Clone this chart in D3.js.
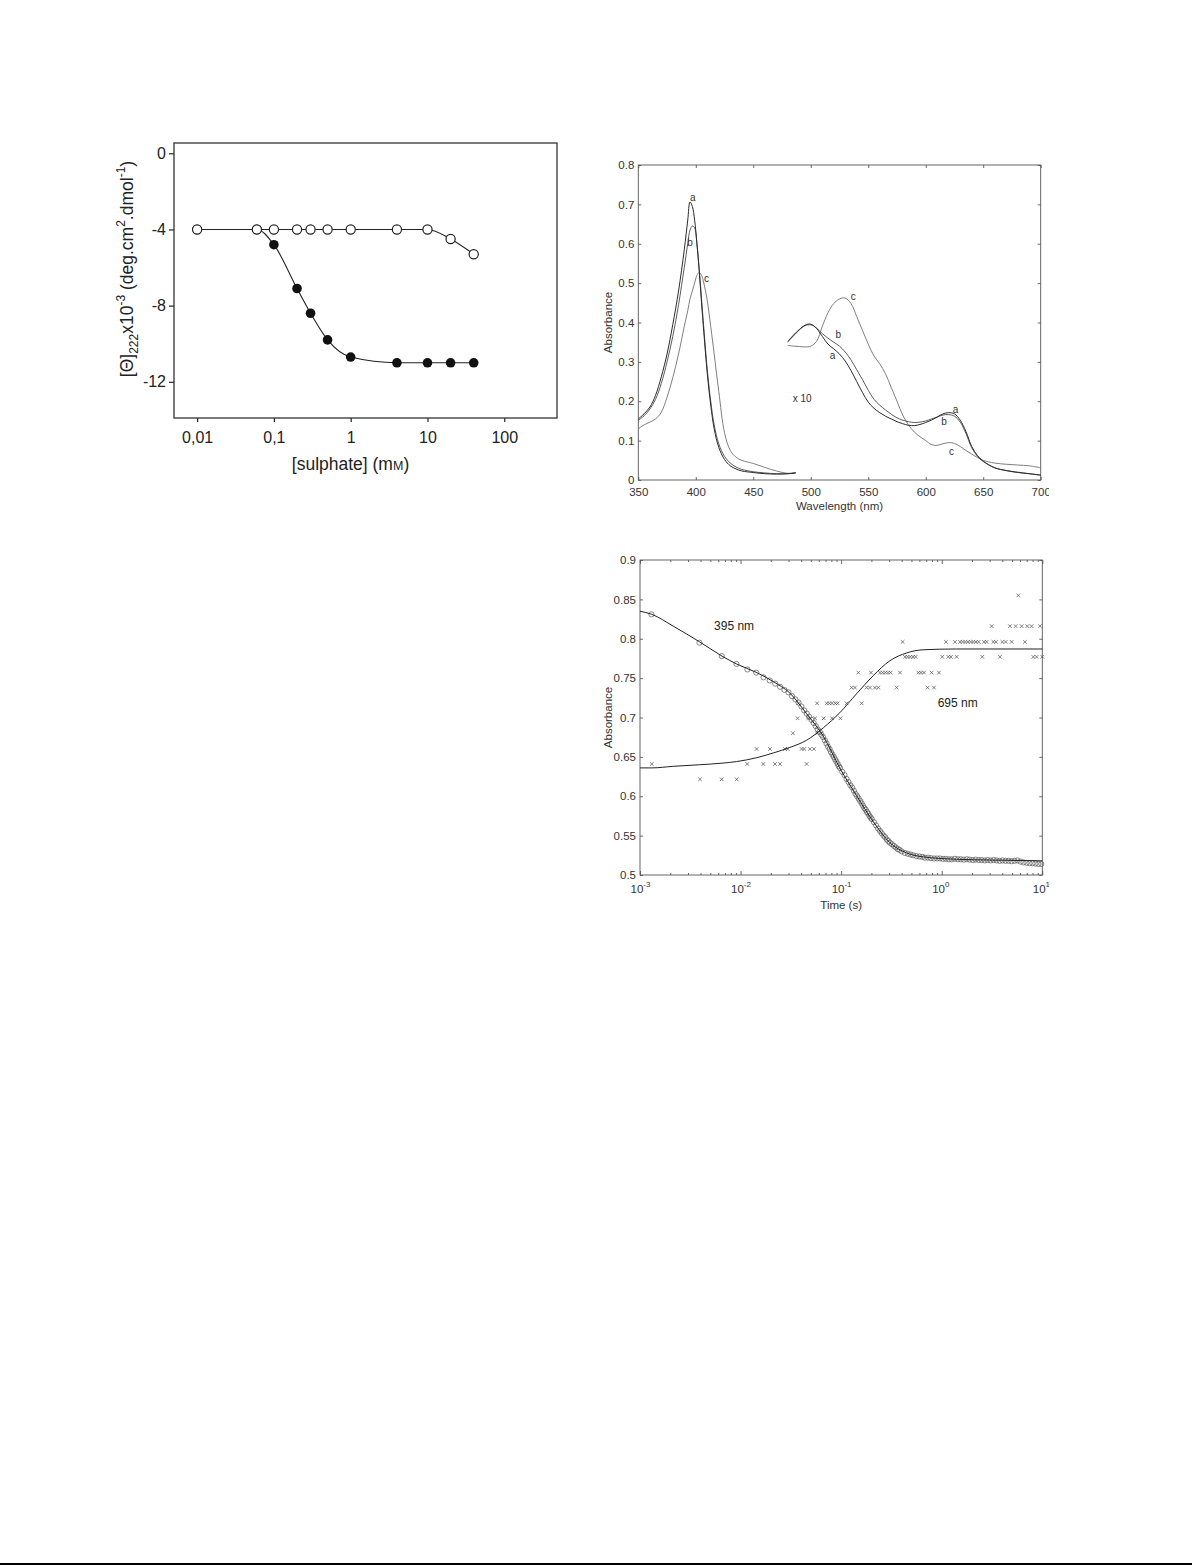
<!DOCTYPE html>
<html>
<head>
<meta charset="utf-8">
<script src="https://cdn.jsdelivr.net/npm/d3@7"></script>
<style>
  body { margin: 0; background: #fff; }
  svg { display: block; }
</style>
</head>
<body>
<div id="chart"></div>
<script>
/* ---------- data: panel 1 (CD vs sulphate) ---------- */
var sulphate = [0.01, 0.06, 0.1, 0.2, 0.3, 0.5, 1, 4, 10, 20, 40];
var thetaFilled = [-4, -4, -4.8, -7.1, -8.4, -9.8, -10.7, -11, -11, -11, -11];
var thetaOpen = [-4, -4, -4, -4, -4, -4, -4, -4, -4, -4.5, -5.3];
var sulphateTicks = [0.01, 0.1, 1, 10, 100];
var sulphateTickLabels = ["0,01", "0,1", "1", "10", "100"];
var thetaTicks = [0, -4, -8, -12];
var thetaTickLabels = ["0", "-4", "-8", "-12"];

/* ---------- data: panel 2 (spectra) ---------- */
var wlSoret = [350, 355, 360, 365, 370, 375, 380, 385, 390, 393, 395, 397, 399, 401, 403, 405, 407, 410, 413, 416, 420, 425, 430, 435, 440, 450, 460, 470, 480, 487];
var soretA = [0.155, 0.168, 0.185, 0.215, 0.262, 0.32, 0.395, 0.48, 0.585, 0.66, 0.706, 0.695, 0.66, 0.6, 0.53, 0.45, 0.375, 0.27, 0.19, 0.13, 0.083, 0.052, 0.036, 0.028, 0.023, 0.019, 0.016, 0.015, 0.016, 0.018];
var soretB = [0.152, 0.163, 0.18, 0.205, 0.245, 0.3, 0.365, 0.445, 0.54, 0.6, 0.635, 0.645, 0.64, 0.6, 0.535, 0.46, 0.385, 0.28, 0.2, 0.14, 0.092, 0.06, 0.043, 0.033, 0.027, 0.021, 0.018, 0.016, 0.016, 0.018];
var soretC = [0.13, 0.14, 0.147, 0.155, 0.172, 0.21, 0.26, 0.32, 0.39, 0.43, 0.46, 0.48, 0.5, 0.52, 0.527, 0.52, 0.5, 0.455, 0.39, 0.32, 0.225, 0.12, 0.075, 0.058, 0.05, 0.042, 0.032, 0.023, 0.017, 0.019];

var wlVis = [480, 485, 490, 495, 500, 505, 510, 515, 520, 525, 530, 535, 540, 545, 550, 555, 560, 565, 570, 575, 580, 585, 590, 595, 600, 605, 610, 615, 620, 625, 630, 635, 640, 645, 650, 660, 670, 680, 690, 700];
var visA = [0.352, 0.368, 0.382, 0.393, 0.396, 0.385, 0.365, 0.345, 0.333, 0.32, 0.302, 0.278, 0.25, 0.222, 0.198, 0.182, 0.171, 0.162, 0.155, 0.148, 0.143, 0.139, 0.138, 0.141, 0.146, 0.152, 0.16, 0.168, 0.171, 0.168, 0.152, 0.123, 0.085, 0.062, 0.048, 0.031, 0.024, 0.019, 0.016, 0.012];
var visB = [0.35, 0.366, 0.381, 0.392, 0.394, 0.386, 0.372, 0.36, 0.35, 0.34, 0.325, 0.305, 0.28, 0.255, 0.228, 0.205, 0.19, 0.178, 0.167, 0.158, 0.152, 0.148, 0.146, 0.147, 0.15, 0.155, 0.16, 0.165, 0.166, 0.162, 0.147, 0.118, 0.082, 0.06, 0.047, 0.031, 0.024, 0.02, 0.016, 0.013];
var visC = [0.342, 0.34, 0.339, 0.338, 0.34, 0.352, 0.39, 0.425, 0.448, 0.46, 0.462, 0.448, 0.415, 0.38, 0.345, 0.315, 0.295, 0.27, 0.235, 0.2, 0.165, 0.14, 0.122, 0.11, 0.1, 0.09, 0.088, 0.092, 0.095, 0.093, 0.085, 0.075, 0.066, 0.057, 0.05, 0.043, 0.04, 0.038, 0.036, 0.031];

var wlTicks = [350, 400, 450, 500, 550, 600, 650, 700];
var absTicks2 = [0, 0.1, 0.2, 0.3, 0.4, 0.5, 0.6, 0.7, 0.8];
var absTickLabels2 = ["0", "0.1", "0.2", "0.3", "0.4", "0.5", "0.6", "0.7", "0.8"];
var specLabels = [
  { t: "a", wl: 397.3, A: 0.718 }, { t: "b", wl: 395, A: 0.604 }, { t: "c", wl: 409.4, A: 0.512 },
  { t: "c", wl: 537, A: 0.467 }, { t: "b", wl: 524, A: 0.37 }, { t: "a", wl: 519, A: 0.317 },
  { t: "a", wl: 626, A: 0.18 }, { t: "b", wl: 616, A: 0.148 }, { t: "c", wl: 622.5, A: 0.072 },
  { t: "x 10", wl: 492.6, A: 0.207 }
];

/* ---------- data: panel 3 (kinetics) ---------- */
var t395 = [0.0013, 0.0039, 0.0065, 0.0091, 0.0117, 0.0143, 0.0169, 0.0195, 0.0221, 0.0247, 0.0273, 0.0299, 0.0325, 0.0351, 0.0377, 0.0403, 0.0429, 0.0455, 0.0481, 0.0507, 0.0533, 0.0559, 0.0585, 0.0611, 0.0637, 0.0663, 0.0689, 0.0715, 0.0741, 0.0767, 0.0793, 0.0819, 0.0845, 0.0871, 0.0897, 0.0923, 0.0949, 0.0975,
  0.1027, 0.1079, 0.1131, 0.1183, 0.1235, 0.1287, 0.1339, 0.1391, 0.1443, 0.1495, 0.1547, 0.1599, 0.1651, 0.1703, 0.1755, 0.1807, 0.1859, 0.1911, 0.1963, 0.2015,
  0.2119, 0.2223, 0.2327, 0.2431, 0.2535, 0.2639, 0.2743, 0.2847, 0.2951, 0.3055, 0.320, 0.335, 0.350, 0.365, 0.380,
  0.40, 0.43, 0.46, 0.49, 0.52, 0.56, 0.60, 0.64, 0.68, 0.73, 0.78, 0.84, 0.90, 0.96, 1.03, 1.10, 1.18, 1.26, 1.35, 1.45, 1.55, 1.66, 1.78, 1.90, 2.04, 2.18, 2.34, 2.50, 2.68, 2.87, 3.07, 3.29, 3.52, 3.77, 4.03, 4.32, 4.62, 4.95, 5.30, 5.67, 6.07, 6.50, 6.96, 7.45, 7.97, 8.53, 9.13, 9.77];
var a395 = [0.831, 0.795, 0.778, 0.768, 0.761, 0.757, 0.751, 0.747, 0.743, 0.739, 0.735, 0.732, 0.727, 0.723, 0.719, 0.714, 0.709, 0.705, 0.701, 0.697, 0.693, 0.689, 0.685, 0.682, 0.678, 0.675, 0.671, 0.667, 0.663, 0.660, 0.656, 0.653, 0.650, 0.647, 0.644, 0.641, 0.638, 0.636,
  0.631, 0.627, 0.622, 0.618, 0.614, 0.611, 0.607, 0.603, 0.600, 0.597, 0.594, 0.591, 0.588, 0.585, 0.583, 0.580, 0.578, 0.575, 0.573, 0.571,
  0.567, 0.563, 0.559, 0.556, 0.553, 0.550, 0.548, 0.545, 0.543, 0.541, 0.539, 0.537, 0.535, 0.533, 0.532,
  0.530, 0.528, 0.527, 0.526, 0.525, 0.524, 0.5235, 0.523, 0.522, 0.522, 0.5215, 0.521, 0.521, 0.521, 0.5205, 0.5205, 0.520, 0.520, 0.5205, 0.520, 0.520, 0.5195, 0.520, 0.5195, 0.519, 0.5195, 0.519, 0.519, 0.5185, 0.519, 0.5185, 0.519, 0.5185, 0.518, 0.5185, 0.518, 0.518, 0.5175, 0.518, 0.5185, 0.517, 0.516, 0.5155, 0.515, 0.515, 0.5145, 0.514, 0.514];

// 695 nm points sit on quantised absorbance levels; times per level
var crossLevels = [0.6215, 0.641, 0.66, 0.68, 0.699, 0.718, 0.738, 0.757, 0.777, 0.796, 0.816, 0.855];
var crossTimes = [
  [0.00395, 0.00649, 0.00914],
  [0.00131, 0.01167, 0.01683, 0.02198, 0.02465, 0.04539],
  [0.01446, 0.01961, 0.02766, 0.02939, 0.04046, 0.04298, 0.04895, 0.05365],
  [0.03311, 0.0576, 0.0637],
  [0.03687, 0.0470, 0.05503, 0.0671, 0.0812, 0.0983],
  [0.03752, 0.0576, 0.0719, 0.0764, 0.0812, 0.0875, 0.0923, 0.1134, 0.1599],
  [0.1272, 0.1372, 0.1793, 0.1935, 0.2169, 0.2342, 0.3562, 0.7244, 0.8375],
  [0.1482, 0.1980, 0.2432, 0.2586, 0.2748, 0.2921, 0.3105, 0.3845, 0.585, 0.6219, 0.6661, 0.7937, 0.9389],
  [0.4311, 0.4582, 0.4871, 0.5177, 0.5503, 1.0134, 1.1629, 1.236, 1.407, 2.532, 3.794, 8.137, 8.785, 10.0],
  [0.4087, 1.102, 1.354, 1.519, 1.614, 1.716, 1.824, 1.939, 2.061, 2.19, 2.328, 2.63, 2.796, 3.259, 3.463, 4.003, 4.319, 4.957, 6.725],
  [3.136, 4.771, 5.433, 6.23, 7.096, 7.834, 9.48],
  [5.772]
];

var fitTime = [0.001, 0.00131, 0.00214, 0.00392, 0.00653, 0.0091, 0.0145, 0.0212, 0.0309, 0.0452, 0.0666, 0.0968, 0.142, 0.208, 0.305, 0.448, 0.655, 1.40, 3.01, 10];
var fit395 = [0.835, 0.831, 0.816, 0.796, 0.778, 0.768, 0.757, 0.7455, 0.731, 0.705, 0.676, 0.636, 0.601, 0.568, 0.541, 0.528, 0.523, 0.520, 0.519, 0.518];
var fit695 = [0.636, 0.636, 0.638, 0.640, 0.642, 0.644, 0.649, 0.655, 0.662, 0.671, 0.687, 0.706, 0.730, 0.753, 0.772, 0.782, 0.786, 0.787, 0.787, 0.787];

var timeTicks = [0.001, 0.01, 0.1, 1, 10];
var timeTickExp = ["-3", "-2", "-1", "0", "1"];
var absTicks3 = [0.5, 0.55, 0.6, 0.65, 0.7, 0.75, 0.8, 0.85, 0.9];
var absTickLabels3 = ["0.5", "0.55", "0.6", "0.65", "0.7", "0.75", "0.8", "0.85", "0.9"];

/* ---------- page ---------- */
var W = 1192, H = 1566;
var font = "'Liberation Sans', Arial, Helvetica, sans-serif";

var svg = d3.select("#chart").append("svg")
  .attr("width", W).attr("height", H)
  .style("font-family", font);
svg.append("rect").attr("width", W).attr("height", H).attr("fill", "#fff");

/* ===== Panel 1 ===== */
var p1 = { left: 174, right: 557, top: 143, bottom: 418 };
var x1 = d3.scaleLog().domain([0.005, 486]).range([p1.left, p1.right]);
var y1 = d3.scaleLinear().domain([-13.9, 0.54]).range([p1.bottom, p1.top]);
var g1 = svg.append("g");

var ax1 = g1.append("g")
  .attr("transform", `translate(0, ${p1.bottom})`)
  .call(d3.axisBottom(x1).tickValues(sulphateTicks)
    .tickFormat((d, i) => sulphateTickLabels[i])
    .tickSizeInner(4).tickSizeOuter(0).tickPadding(10));
var ay1 = g1.append("g")
  .attr("transform", `translate(${p1.left}, 0)`)
  .call(d3.axisLeft(y1).tickValues(thetaTicks)
    .tickFormat((d, i) => thetaTickLabels[i])
    .tickSizeInner(5).tickSizeOuter(0).tickPadding(3));
[ax1, ay1].forEach(function (a) {
  a.select(".domain").remove();
  a.selectAll("line").attr("stroke", "#222").attr("stroke-width", 1.2);
  a.selectAll("text").attr("fill", "#222").style("font-size", "16px").style("font-family", font);
});

g1.append("rect")
  .attr("x", p1.left).attr("y", p1.top)
  .attr("width", p1.right - p1.left).attr("height", p1.bottom - p1.top)
  .attr("fill", "none").attr("stroke", "#333").attr("stroke-width", 1.3);

var line1 = d3.line().curve(d3.curveMonotoneX)
  .x((d) => x1(d[0])).y((d) => y1(d[1]));
var filled = sulphate.map((s, i) => [s, thetaFilled[i]]);
var open = sulphate.map((s, i) => [s, thetaOpen[i]]);

g1.append("path").attr("d", line1(filled))
  .attr("fill", "none").attr("stroke", "#222").attr("stroke-width", 1.1);
g1.append("path").attr("d", line1(open))
  .attr("fill", "none").attr("stroke", "#222").attr("stroke-width", 1.1);

g1.selectAll(".filled").data(filled).enter().append("circle")
  .attr("class", "filled")
  .attr("cx", (d) => x1(d[0])).attr("cy", (d) => y1(d[1]))
  .attr("r", 4.8).attr("fill", "#111");
g1.selectAll(".open").data(open).enter().append("circle")
  .attr("class", "open")
  .attr("cx", (d) => x1(d[0])).attr("cy", (d) => y1(d[1]))
  .attr("r", 4.6).attr("fill", "#fff").attr("stroke", "#222").attr("stroke-width", 1.2);

var xt1 = g1.append("text")
  .attr("x", (p1.left + p1.right) / 2 - 15).attr("y", 470)
  .attr("text-anchor", "middle").attr("fill", "#222")
  .style("font-size", "17.5px");
xt1.append("tspan").text("[sulphate] (m");
xt1.append("tspan").style("font-size", "12.5px").text("M");
xt1.append("tspan").text(")");

var yt1 = g1.append("text")
  .attr("transform", "translate(133, 269) rotate(-90)")
  .attr("text-anchor", "middle").attr("fill", "#222")
  .style("font-size", "17.5px");
yt1.append("tspan").text("[\u0398]");
yt1.append("tspan").attr("dy", 5).style("font-size", "12px").text("222");
yt1.append("tspan").attr("dy", -5).text("x10");
yt1.append("tspan").attr("dy", -8).style("font-size", "12px").text("-3");
yt1.append("tspan").attr("dy", 8).text(" (deg.cm");
yt1.append("tspan").attr("dy", -8).style("font-size", "12px").text("2");
yt1.append("tspan").attr("dy", 8).text(".dmol");
yt1.append("tspan").attr("dy", -8).style("font-size", "12px").text("-1");
yt1.append("tspan").attr("dy", 8).text(")");

/* right-hand panels, cropped at the original image edge */
var right = svg.append("svg").attr("x", 0).attr("y", 0)
  .attr("width", 1049).attr("height", H);

function styleAxis(a, size) {
  a.select(".domain").remove();
  a.selectAll("line").attr("stroke", "#444").attr("stroke-width", 0.8);
  a.selectAll("text").attr("fill", "#333").style("font-size", size + "px").style("font-family", font);
}

/* ===== Panel 2 ===== */
var p2 = { left: 638.3, right: 1040.7, top: 165, bottom: 480 };
var x2 = d3.scaleLinear().domain([350, 700]).range([p2.left, p2.right]);
var y2 = d3.scaleLinear().domain([0, 0.8]).range([p2.bottom, p2.top]);
var g2 = right.append("g");

styleAxis(g2.append("g").attr("transform", `translate(0, ${p2.bottom})`)
  .call(d3.axisBottom(x2).tickValues(wlTicks).tickFormat(d3.format("d"))
    .tickSizeInner(-3).tickSizeOuter(0).tickPadding(8)), 11.5);
styleAxis(g2.append("g").attr("transform", `translate(0, ${p2.top})`)
  .call(d3.axisTop(x2).tickValues(wlTicks).tickFormat("")
    .tickSizeInner(-3).tickSizeOuter(0)), 11.5);
styleAxis(g2.append("g").attr("transform", `translate(${p2.left}, 0)`)
  .call(d3.axisLeft(y2).tickValues(absTicks2).tickFormat((d, i) => absTickLabels2[i])
    .tickSizeInner(-3).tickSizeOuter(0).tickPadding(4)), 11.5);
styleAxis(g2.append("g").attr("transform", `translate(${p2.right}, 0)`)
  .call(d3.axisRight(y2).tickValues(absTicks2).tickFormat("")
    .tickSizeInner(-3).tickSizeOuter(0)), 11.5);

g2.append("rect")
  .attr("x", p2.left).attr("y", p2.top)
  .attr("width", p2.right - p2.left).attr("height", p2.bottom - p2.top)
  .attr("fill", "none").attr("stroke", "#555").attr("stroke-width", 0.9);

var line2 = d3.line().curve(d3.curveCatmullRom.alpha(0.5))
  .x((d) => x2(d[0])).y((d) => y2(d[1]));
var spectra = [
  { wl: wlSoret, A: soretC, color: "#707070", w: 0.9 },
  { wl: wlSoret, A: soretB, color: "#4a4a4a", w: 0.9 },
  { wl: wlSoret, A: soretA, color: "#2a2a2a", w: 1 },
  { wl: wlVis, A: visC, color: "#707070", w: 0.9 },
  { wl: wlVis, A: visB, color: "#4a4a4a", w: 0.9 },
  { wl: wlVis, A: visA, color: "#2a2a2a", w: 1 }
];
g2.selectAll(".spec").data(spectra).enter().append("path")
  .attr("class", "spec")
  .attr("d", (s) => line2(s.wl.map((w, i) => [w, s.A[i]])))
  .attr("fill", "none").attr("stroke", (s) => s.color).attr("stroke-width", (s) => s.w);

g2.selectAll(".lab").data(specLabels).enter().append("text")
  .attr("class", "lab")
  .attr("x", (d) => x2(d.wl)).attr("y", (d) => y2(d.A))
  .attr("dy", "0.35em").attr("text-anchor", "middle")
  .attr("fill", "#333").style("font-size", "10px")
  .text((d) => d.t);

g2.append("text")
  .attr("x", (p2.left + p2.right) / 2).attr("y", 510)
  .attr("text-anchor", "middle").attr("fill", "#333")
  .style("font-size", "11.5px").text("Wavelength (nm)");
g2.append("text")
  .attr("transform", `translate(612, ${(p2.top + p2.bottom) / 2}) rotate(-90)`)
  .attr("text-anchor", "middle").attr("fill", "#333")
  .style("font-size", "11.5px").text("Absorbance");

/* ===== Panel 3 ===== */
var p3 = { left: 640, right: 1042.3, top: 560, bottom: 875 };
var x3 = d3.scaleLog().domain([0.001, 10]).range([p3.left, p3.right]);
var y3 = d3.scaleLinear().domain([0.5, 0.9]).range([p3.bottom, p3.top]);
var g3 = right.append("g");

var minorTicks = [];
timeTicks.slice(0, -1).forEach(function (dec) {
  for (var k = 2; k <= 9; k++) minorTicks.push(dec * k);
});

styleAxis(g3.append("g").attr("transform", `translate(0, ${p3.bottom})`)
  .call(d3.axisBottom(x3).tickValues(timeTicks).tickFormat("")
    .tickSizeInner(-4).tickSizeOuter(0)), 11.5);
styleAxis(g3.append("g").attr("transform", `translate(0, ${p3.bottom})`)
  .call(d3.axisBottom(x3).tickValues(minorTicks).tickFormat("")
    .tickSizeInner(-2).tickSizeOuter(0)), 11.5);
styleAxis(g3.append("g").attr("transform", `translate(0, ${p3.top})`)
  .call(d3.axisTop(x3).tickValues(timeTicks).tickFormat("")
    .tickSizeInner(-4).tickSizeOuter(0)), 11.5);
styleAxis(g3.append("g").attr("transform", `translate(0, ${p3.top})`)
  .call(d3.axisTop(x3).tickValues(minorTicks).tickFormat("")
    .tickSizeInner(-2).tickSizeOuter(0)), 11.5);
styleAxis(g3.append("g").attr("transform", `translate(${p3.left}, 0)`)
  .call(d3.axisLeft(y3).tickValues(absTicks3).tickFormat((d, i) => absTickLabels3[i])
    .tickSizeInner(-3).tickSizeOuter(0).tickPadding(4)), 11.5);
styleAxis(g3.append("g").attr("transform", `translate(${p3.right}, 0)`)
  .call(d3.axisRight(y3).tickValues(absTicks3).tickFormat("")
    .tickSizeInner(-3).tickSizeOuter(0)), 11.5);

// power-of-ten tick labels: "10" centred just left of the tick, exponent after
timeTicks.forEach(function (t, i) {
  var lab = g3.append("text")
    .attr("x", x3(t) - 9.5).attr("y", 893)
    .attr("fill", "#333")
    .style("font-size", "11.5px");
  lab.append("tspan").text("10");
  lab.append("tspan").attr("dy", -6).style("font-size", "8px").text(timeTickExp[i]);
});

g3.append("rect")
  .attr("x", p3.left).attr("y", p3.top)
  .attr("width", p3.right - p3.left).attr("height", p3.bottom - p3.top)
  .attr("fill", "none").attr("stroke", "#555").attr("stroke-width", 0.9);

var line3 = d3.line().curve(d3.curveMonotoneX)
  .x((d) => x3(d[0])).y((d) => y3(d[1]));

var crosses = [];
crossLevels.forEach(function (lv, i) {
  crossTimes[i].forEach(function (t) { crosses.push([t, lv]); });
});
g3.selectAll(".cross").data(crosses).enter().append("path")
  .attr("class", "cross")
  .attr("transform", (d) => `translate(${x3(d[0])}, ${y3(d[1])})`)
  .attr("d", "M-1.8,-1.8L1.8,1.8M-1.8,1.8L1.8,-1.8")
  .attr("stroke", "#555").attr("stroke-width", 0.75).attr("fill", "none");

g3.selectAll(".pt").data(t395.map((t, i) => [t, a395[i]])).enter().append("circle")
  .attr("class", "pt")
  .attr("cx", (d) => x3(d[0])).attr("cy", (d) => y3(d[1]))
  .attr("r", 2.6).attr("fill", "none").attr("stroke", "#555").attr("stroke-width", 0.7);

g3.append("path").attr("d", line3(fitTime.map((t, i) => [t, fit395[i]])))
  .attr("fill", "none").attr("stroke", "#222").attr("stroke-width", 1);
g3.append("path").attr("d", line3(fitTime.map((t, i) => [t, fit695[i]])))
  .attr("fill", "none").attr("stroke", "#222").attr("stroke-width", 1);

g3.append("text").attr("x", x3(0.00545)).attr("y", y3(0.811))
  .attr("fill", "#222").style("font-size", "12px").text("395 nm");
g3.append("text").attr("x", x3(0.912)).attr("y", y3(0.7138))
  .attr("fill", "#222").style("font-size", "12px").text("695 nm");

g3.append("text")
  .attr("x", (p3.left + p3.right) / 2).attr("y", 909)
  .attr("text-anchor", "middle").attr("fill", "#333")
  .style("font-size", "11.5px").text("Time (s)");
g3.append("text")
  .attr("transform", `translate(612, ${(p3.top + p3.bottom) / 2}) rotate(-90)`)
  .attr("text-anchor", "middle").attr("fill", "#333")
  .style("font-size", "11.5px").text("Absorbance");

/* page edge rule */
svg.append("line")
  .attr("x1", 0).attr("x2", W).attr("y1", 1564).attr("y2", 1564)
  .attr("stroke", "#000").attr("stroke-width", 2);
</script>
</body>
</html>
